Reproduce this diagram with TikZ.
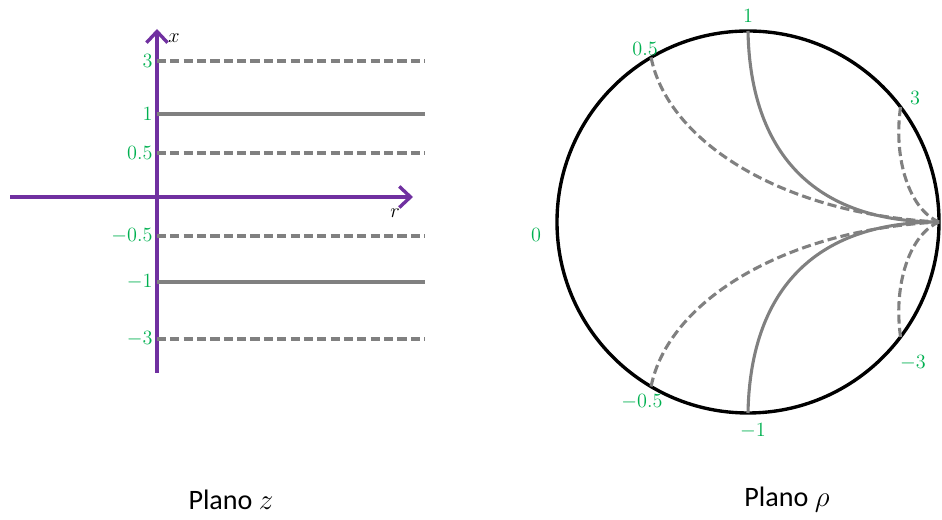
\documentclass[tikz,border=0pt]{standalone}
\usepackage{amsmath}
\usepackage[no-math]{fontspec}
\setmainfont{Carlito}
\usepackage{tikz}
\usetikzlibrary{arrows.meta}
\definecolor{axpurple}{RGB}{112,48,160}
\definecolor{lblgreen}{RGB}{0,176,80}
\definecolor{linegray}{RGB}{128,128,128}

\begin{document}
\begin{tikzpicture}[
    axis/.style={draw=axpurple, line width=2.4pt, -{Straight Barb[length=8pt,width=15pt]}},
    solidline/.style={draw=linegray, line width=2.2pt},
    dashline/.style={solidline, dash pattern=on 6.5pt off 3pt},
    lbl/.style={text=lblgreen, font=\fontsize{14}{16}\selectfont, inner sep=1pt},
    var/.style={font=\fontsize{14}{16}\selectfont, inner sep=0pt},
    title/.style={font=\fontsize{20}{24}\selectfont}
]
  \useasboundingbox (0,0) rectangle (23.55,13);

  % plano z
  \coordinate (xbot) at (3.925,3.675);
  \coordinate (xtop) at (3.925,12.275);
  \coordinate (rleft) at (0.25,8.075);
  \coordinate (rright) at (10.325,8.075);
  \draw[axis] (xbot) -- (xtop);
  \draw[axis] (rleft) -- (rright);
  \node[var] (xlab) at (4.35,12.05) {$x$};
  \node[var] (rlab) at (9.875,7.675) {$r$};

  \foreach \y/\v/\s [count=\i] in {11.475/3/dashline, 10.15/1/solidline, 9.175/0.5/dashline,
                                  7.1/-0.5/dashline, 5.95/-1/solidline, 4.525/-3/dashline} {
    \coordinate (a\i) at (3.925,\y);
    \coordinate (b\i) at (10.625,\y);
    \node[lbl, left=2pt] (zl\i) at (a\i) {$\v$};
    \draw[\s] (a\i) -- (b\i);
  }
  \node[title] (planz) at (5.775,0.5) {Plano $z$};

  % plano rho
  \begin{scope}[shift={(18.7,7.45)}]
    \draw[line width=2.4pt] (0,0) circle (4.775);
    \coordinate (g) at (4.775,0);
    \foreach \s in {1,-1} {
      \begin{scope}[yscale=\s]
        \draw[solidline] (90:4.775) .. controls (0.05,2.0) and (1.4,0) .. (g);
        \draw[dashline] (120.5:4.775) .. controls (-2.0,2.0) and (0.875,0.2) .. (g);
        \draw[dashline] (37:4.775) .. controls (3.625,1.55) and (4.05,0.3) .. (g);
      \end{scope}
    }
    \node[lbl] (p1) at (0,5.15) {$1$};
    \node[lbl] (p05) at (-2.575,4.325) {$0.5$};
    \node[lbl] (p3) at (4.175,3.1) {$3$};
    \node[lbl] (p0) at (-5.3,-0.325) {$0$};
    \node[lbl] (pm3) at (4.125,-3.525) {$-3$};
    \node[lbl] (pm1) at (0.125,-5.225) {$-1$};
    \node[lbl] (pm05) at (-2.65,-4.5) {$-0.5$};
  \end{scope}
  \node[title] (planrho) at (19.675,0.5) {Plano $\rho$};
\end{tikzpicture}
\end{document}
